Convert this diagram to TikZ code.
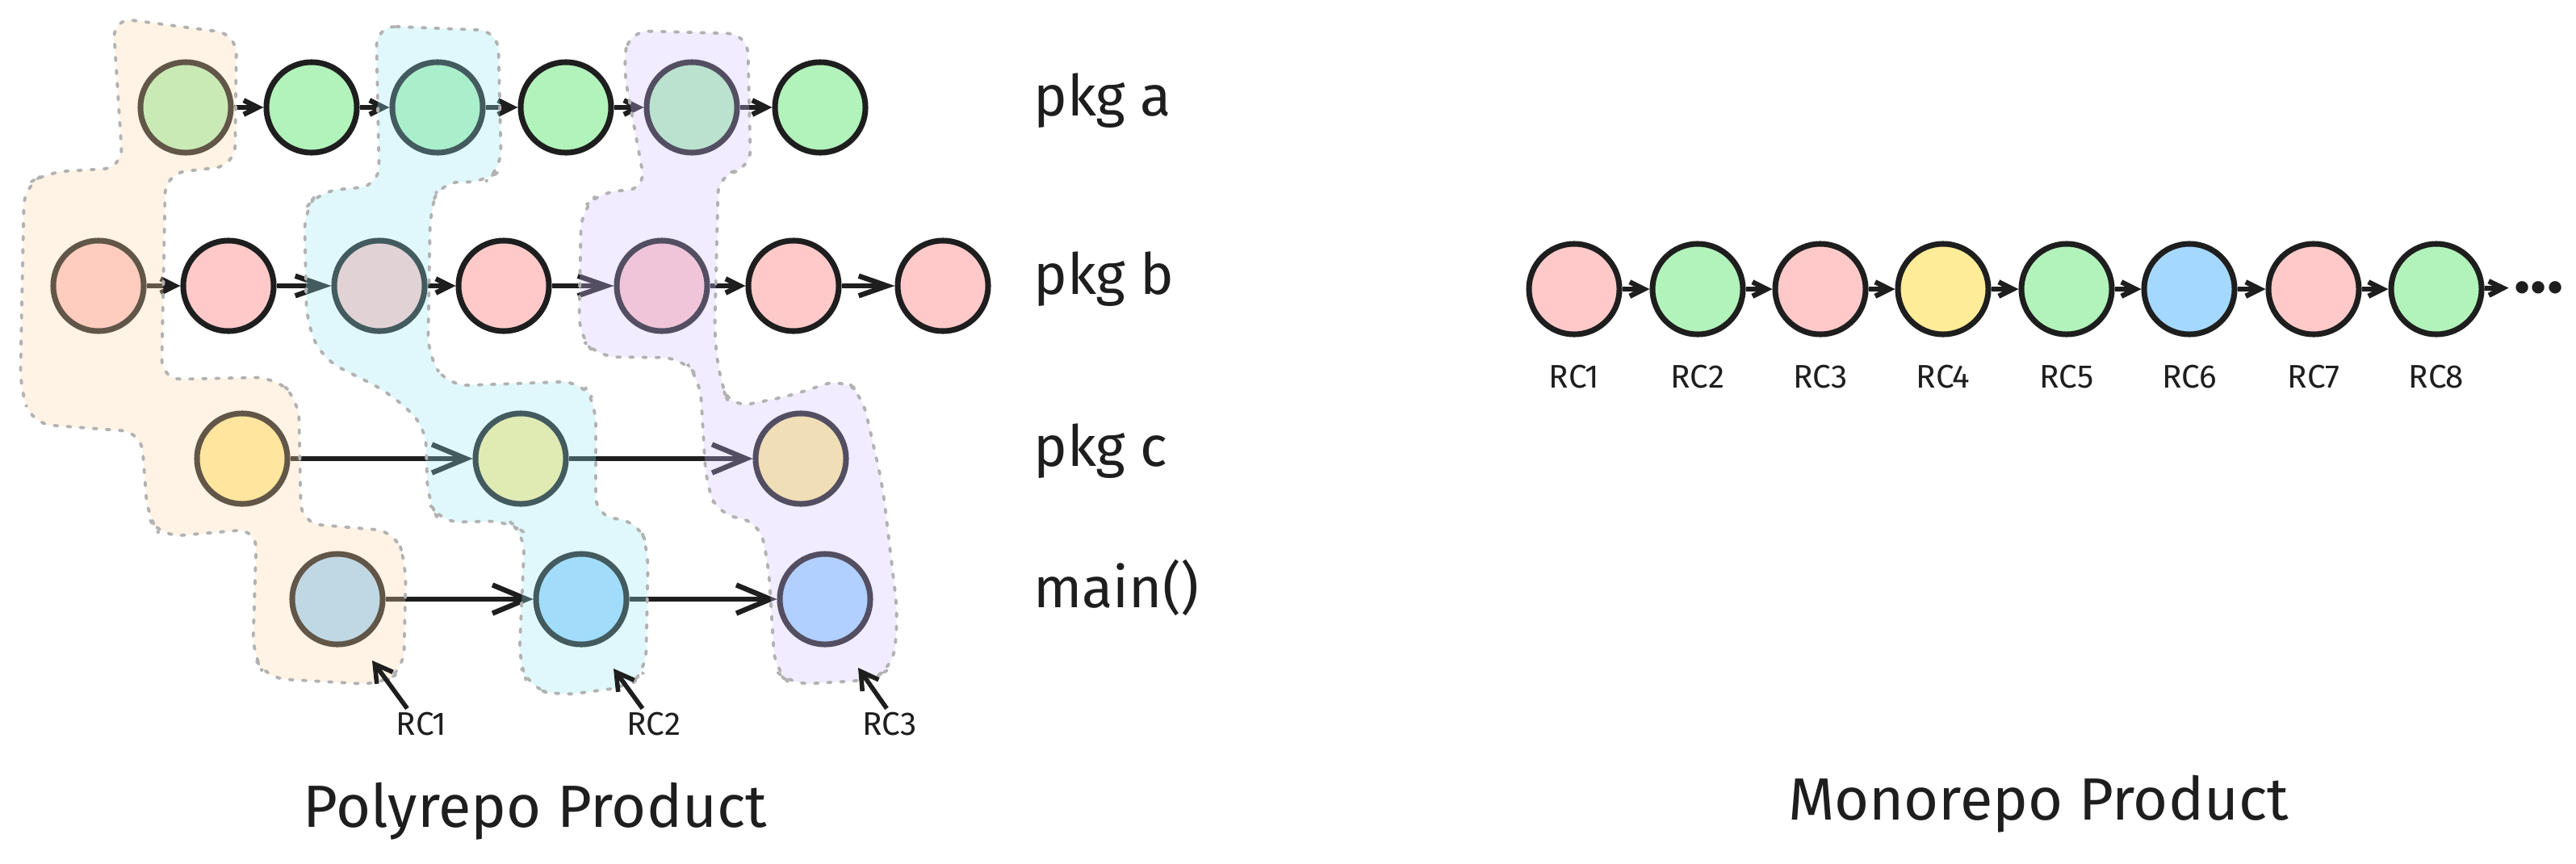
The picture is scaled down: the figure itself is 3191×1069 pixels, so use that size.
\documentclass[tikz,border=0pt]{standalone}
\usepackage{fontspec}
\setmainfont{Fira Sans}
\usetikzlibrary{positioning}
\usetikzlibrary{arrows.meta}

\definecolor{ink}{HTML}{1E1E1E}
\definecolor{lgreen}{HTML}{B2F2BB}
\definecolor{lpink}{HTML}{FFC9C9}
\definecolor{lyellow}{HTML}{FFEC99}
\definecolor{lblue}{HTML}{A5D8FF}
\definecolor{ovorange}{HTML}{FFD8A8}
\definecolor{ovcyan}{HTML}{99E9F2}
\definecolor{ovviolet}{HTML}{D0BFFF}

\begin{document}
\begin{tikzpicture}[x=0.01cm,y=-0.01cm]
\tikzset{
  dot/.style={circle, draw=ink, line width=2pt, minimum size=1.12cm, inner sep=0pt},
  link/.style={draw=ink, line width=1.8pt, -{Straight Barb[length=5pt,width=5pt]}},
  midlink/.style={link, -{Straight Barb[length=10pt,width=7pt]}},
  longlink/.style={link, -{Straight Barb[length=12pt,width=10pt]}},
  rclink/.style={draw=ink, line width=1.6pt, -{Straight Barb[length=6pt,width=7pt]}},
  group/.style={draw=black!30, line width=1.1pt, dash pattern=on 1.2pt off 3.4pt, line cap=round, fill opacity=0.3, rounded corners=7pt},
  pkg/.style={anchor=base west, font=\fontsize{20}{24}\selectfont, text=ink},
  rc/.style={font=\fontsize{11.5}{13}\selectfont, text=ink, inner sep=1pt},
  title/.style={anchor=base, font=\fontsize{21}{25}\selectfont, text=ink},
}
\useasboundingbox (0,0) rectangle (3191,1069);

% polyrepo rows
\foreach \i/\x in {1/230,2/386,3/542,4/701,5/857,6/1016}
  \node[dot, fill=lgreen] (a\i) at (\x,133) {};
\foreach \i/\x in {1/122,2/283,3/470,4/624,5/820,6/983,7/1168}
  \node[dot, fill=lpink] (b\i) at (\x,354) {};
\foreach \i/\x in {1/300,2/645,3/992}
  \node[dot, fill=lyellow] (c\i) at (\x,568) {};
\foreach \i/\x in {1/418,2/720,3/1022}
  \node[dot, fill=lblue] (m\i) at (\x,742) {};

\foreach \s/\t in {1/2,2/3,3/4,4/5,5/6}
  \draw[link] (a\s) -- (a\t);
\foreach \s/\t/\st in {1/2/link,2/3/midlink,3/4/link,4/5/midlink,5/6/link,6/7/midlink}
  \draw[\st] (b\s) -- (b\t);
\foreach \s/\t in {1/2,2/3}{
  \draw[longlink] (c\s) -- (c\t);
  \draw[longlink] (m\s) -- (m\t);
}

% release groups
\draw[group, fill=ovorange] (140,22) -- (293,42) -- (291,205) -- (205,215) -- (200,470)
  -- (340,467) -- (370,495) -- (373,648) -- (490,658) -- (503,700) -- (500,830)
  -- (470,848) -- (330,840) -- (313,810) -- (318,655) -- (200,665) -- (183,640)
  -- (175,535) -- (40,525) -- (25,480) -- (30,230) -- (60,213) -- (152,208) -- cycle;
\draw[group, fill=ovcyan] (466,32) -- (617,38) -- (621,210) -- (600,226) -- (545,225)
  -- (533,260) -- (530,440) -- (555,478) -- (720,472) -- (738,500) -- (738,640)
  -- (790,645) -- (803,680) -- (800,830) -- (780,850) -- (690,862) -- (655,850)
  -- (643,820) -- (650,660) -- (630,645) -- (545,647) -- (530,620) -- (527,527)
  -- (480,485) -- (400,445) -- (380,400) -- (377,260) -- (395,237) -- (470,230) -- cycle;
\draw[group, fill=ovviolet] (779,38) -- (926,42) -- (930,210) -- (890,215) -- (885,420)
  -- (893,475) -- (905,505) -- (980,490) -- (1045,468) -- (1068,490) -- (1093,600)
  -- (1112,760) -- (1107,825) -- (1080,842) -- (980,848) -- (960,830) -- (952,700)
  -- (940,645) -- (890,638) -- (875,600) -- (867,470) -- (845,443) -- (740,442)
  -- (717,415) -- (720,260) -- (744,237) -- (800,235) -- (772,83) -- cycle;

% row labels
\node[pkg] (la) at (1268,143) {pkg a};
\node[pkg] (lb) at (1268,364) {pkg b};
\node[pkg] (lc) at (1268,577) {pkg c};
\node[pkg] (lm) at (1268,752) {main()};

% release pointers
\coordinate (t1) at (461,818);
\coordinate (t2) at (760,828);
\coordinate (t3) at (1063,827);
\foreach \i/\x/\dx in {1/522/-5pt,2/810/-4pt,3/1102/-1pt}{
  \node[rc, anchor=base] (p\i) at (\x,910) {RC\i};
  \draw[rclink] ([xshift=\dx]p\i.north) -- (t\i);
}

% monorepo
\foreach \i/\x/\c in {1/1950/lpink,2/2103/lgreen,3/2255/lpink,4/2407/lyellow,5/2560/lgreen,6/2712/lblue,7/2866/lpink,8/3018/lgreen}{
  \node[dot, fill=\c] (r\i) at (\x,358) {};
  \node[rc, below=0.3cm of r\i] (rl\i) {RC\i};
}
\foreach \s/\t in {1/2,2/3,3/4,4/5,5/6,6/7,7/8}
  \draw[link] (r\s) -- (r\t);
\node[inner sep=0pt, outer sep=2pt, font=\fontsize{24}{26}\selectfont\bfseries, text=ink] (more) at (3145,356) {...};
\draw[link] (r8) -- (more);

% titles
\node[title] (poly) at (663,1024) {Polyrepo Product};
\node[title] (mono) at (2525,1015) {Monorepo Product};
\end{tikzpicture}
\end{document}
